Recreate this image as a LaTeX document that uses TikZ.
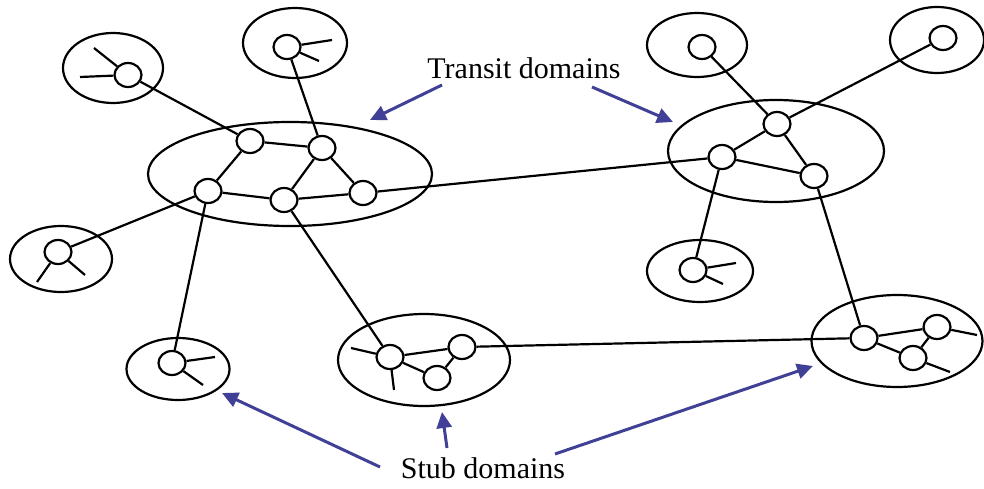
\documentclass[tikz,border=0pt]{standalone}
\usepackage{fontspec}
\setmainfont{Liberation Serif}
\usetikzlibrary{arrows.meta,shapes.geometric}

\definecolor{arrowblue}{RGB}{64,64,150}

\tikzset{
	net domain/.style={draw,ellipse,line width=2.2pt,inner sep=0pt},
	router/.style={draw,ellipse,line width=2.2pt,inner sep=0pt,
		minimum width=27pt,minimum height=24pt},
	net link/.style={line width=2.2pt},
	pointer/.style={line width=3pt,color=arrowblue,
		-{Triangle[length=16pt,width=15pt]}},
	label text/.style={anchor=base,font=\fontsize{30}{36}\selectfont}
}

\begin{document}
\begin{tikzpicture}[x=1pt,y=-1pt]

\useasboundingbox (0,0) rectangle (984,489);

% domains
\node[net domain,minimum width=100pt,minimum height=70pt] (stubTL) at (113,68) {};
\node[net domain,minimum width=104pt,minimum height=70pt] (stubT) at (295,43) {};
\node[net domain,minimum width=284pt,minimum height=104pt] (transL) at (290,174) {};
\node[net domain,minimum width=102pt,minimum height=66pt] (stubL) at (61,259) {};
\node[net domain,minimum width=103pt,minimum height=62pt] (stubBL) at (178,369) {};
\node[net domain,minimum width=172pt,minimum height=92pt] (stubB) at (424,360) {};
\node[net domain,minimum width=171pt,minimum height=92pt] (stubBR) at (897,341) {};
\node[net domain,minimum width=100pt,minimum height=64pt] (stubTRa) at (697,45) {};
\node[net domain,minimum width=94pt,minimum height=66pt] (stubTRb) at (937,40) {};
\node[net domain,minimum width=216pt,minimum height=102pt] (transR) at (776,151) {};
\node[net domain,minimum width=106pt,minimum height=62pt] (stubR) at (700,271) {};

% loose ends inside the stubs
\coordinate (tlA) at (94,48);
\coordinate (tlB) at (80,77);
\coordinate (tA) at (332,40);
\coordinate (tB) at (319,61);
\coordinate (lA) at (37,282);
\coordinate (lB) at (85,275);
\coordinate (blA) at (215,357);
\coordinate (blB) at (203,385);
\coordinate (bA) at (351,348);
\coordinate (bB) at (394,390);
\coordinate (brA) at (977,335);
\coordinate (brB) at (950,372);
\coordinate (rA) at (736,263);
\coordinate (rB) at (723,284);

% routers
\node[router] (tl) at (128,75) {};
\node[router] (t) at (287,47) {};
\node[router] (A) at (250,141) {};
\node[router] (B) at (322,148) {};
\node[router] (C) at (208,191) {};
\node[router] (D) at (284,200) {};
\node[router] (E) at (363,193) {};
\node[router] (l) at (58,252) {};
\node[router] (bl) at (172,363) {};
\node[router] (F) at (390,357) {};
\node[router] (G) at (462,347) {};
\node[router] (H) at (437,378) {};
\node[router] (I) at (864,338) {};
\node[router] (J) at (937,327) {};
\node[router] (K) at (913,358) {};
\node[router] (tra) at (702,47) {};
\node[router] (trb) at (943,38) {};
\node[router] (L) at (777,124) {};
\node[router] (M) at (722,157) {};
\node[router] (N) at (814,176) {};
\node[router] (r) at (693,270) {};

% links
\foreach \u/\v in {tl/tlA,tl/tlB,t/tA,t/tB,l/lA,l/lB,bl/blA,bl/blB,
	F/bA,F/bB,J/brA,K/brB,r/rA,r/rB,
	A/B,A/C,B/D,B/E,C/D,D/E,F/G,F/H,G/H,I/J,I/K,J/K,L/M,L/N,M/N,
	tl/A,t/B,l/C,bl/C,D/F,E/M,G/I,N/I,L/tra,L/trb,M/r}{
	\draw[net link] (\u)--(\v);
}

% labels
\node[label text] (transit) at (524,79) {Transit domains};
\node[label text] (stub) at (483,478) {Stub domains};

\coordinate (transitL) at (442,85);
\coordinate (transitR) at (592,87);
\coordinate (tipTL) at (370,120);
\coordinate (tipTR) at (673,122);
\coordinate (stubLt) at (380,467);
\coordinate (stubMt) at (447,448);
\coordinate (stubRt) at (555,454);
\coordinate (tipSL) at (222,393);
\coordinate (tipSM) at (442,412);
\coordinate (tipSR) at (813,366);

\draw[pointer] (transitL)--(tipTL);
\draw[pointer] (transitR)--(tipTR);
\draw[pointer] (stubLt)--(tipSL);
\draw[pointer] (stubMt)--(tipSM);
\draw[pointer] (stubRt)--(tipSR);

\end{tikzpicture}
\end{document}
